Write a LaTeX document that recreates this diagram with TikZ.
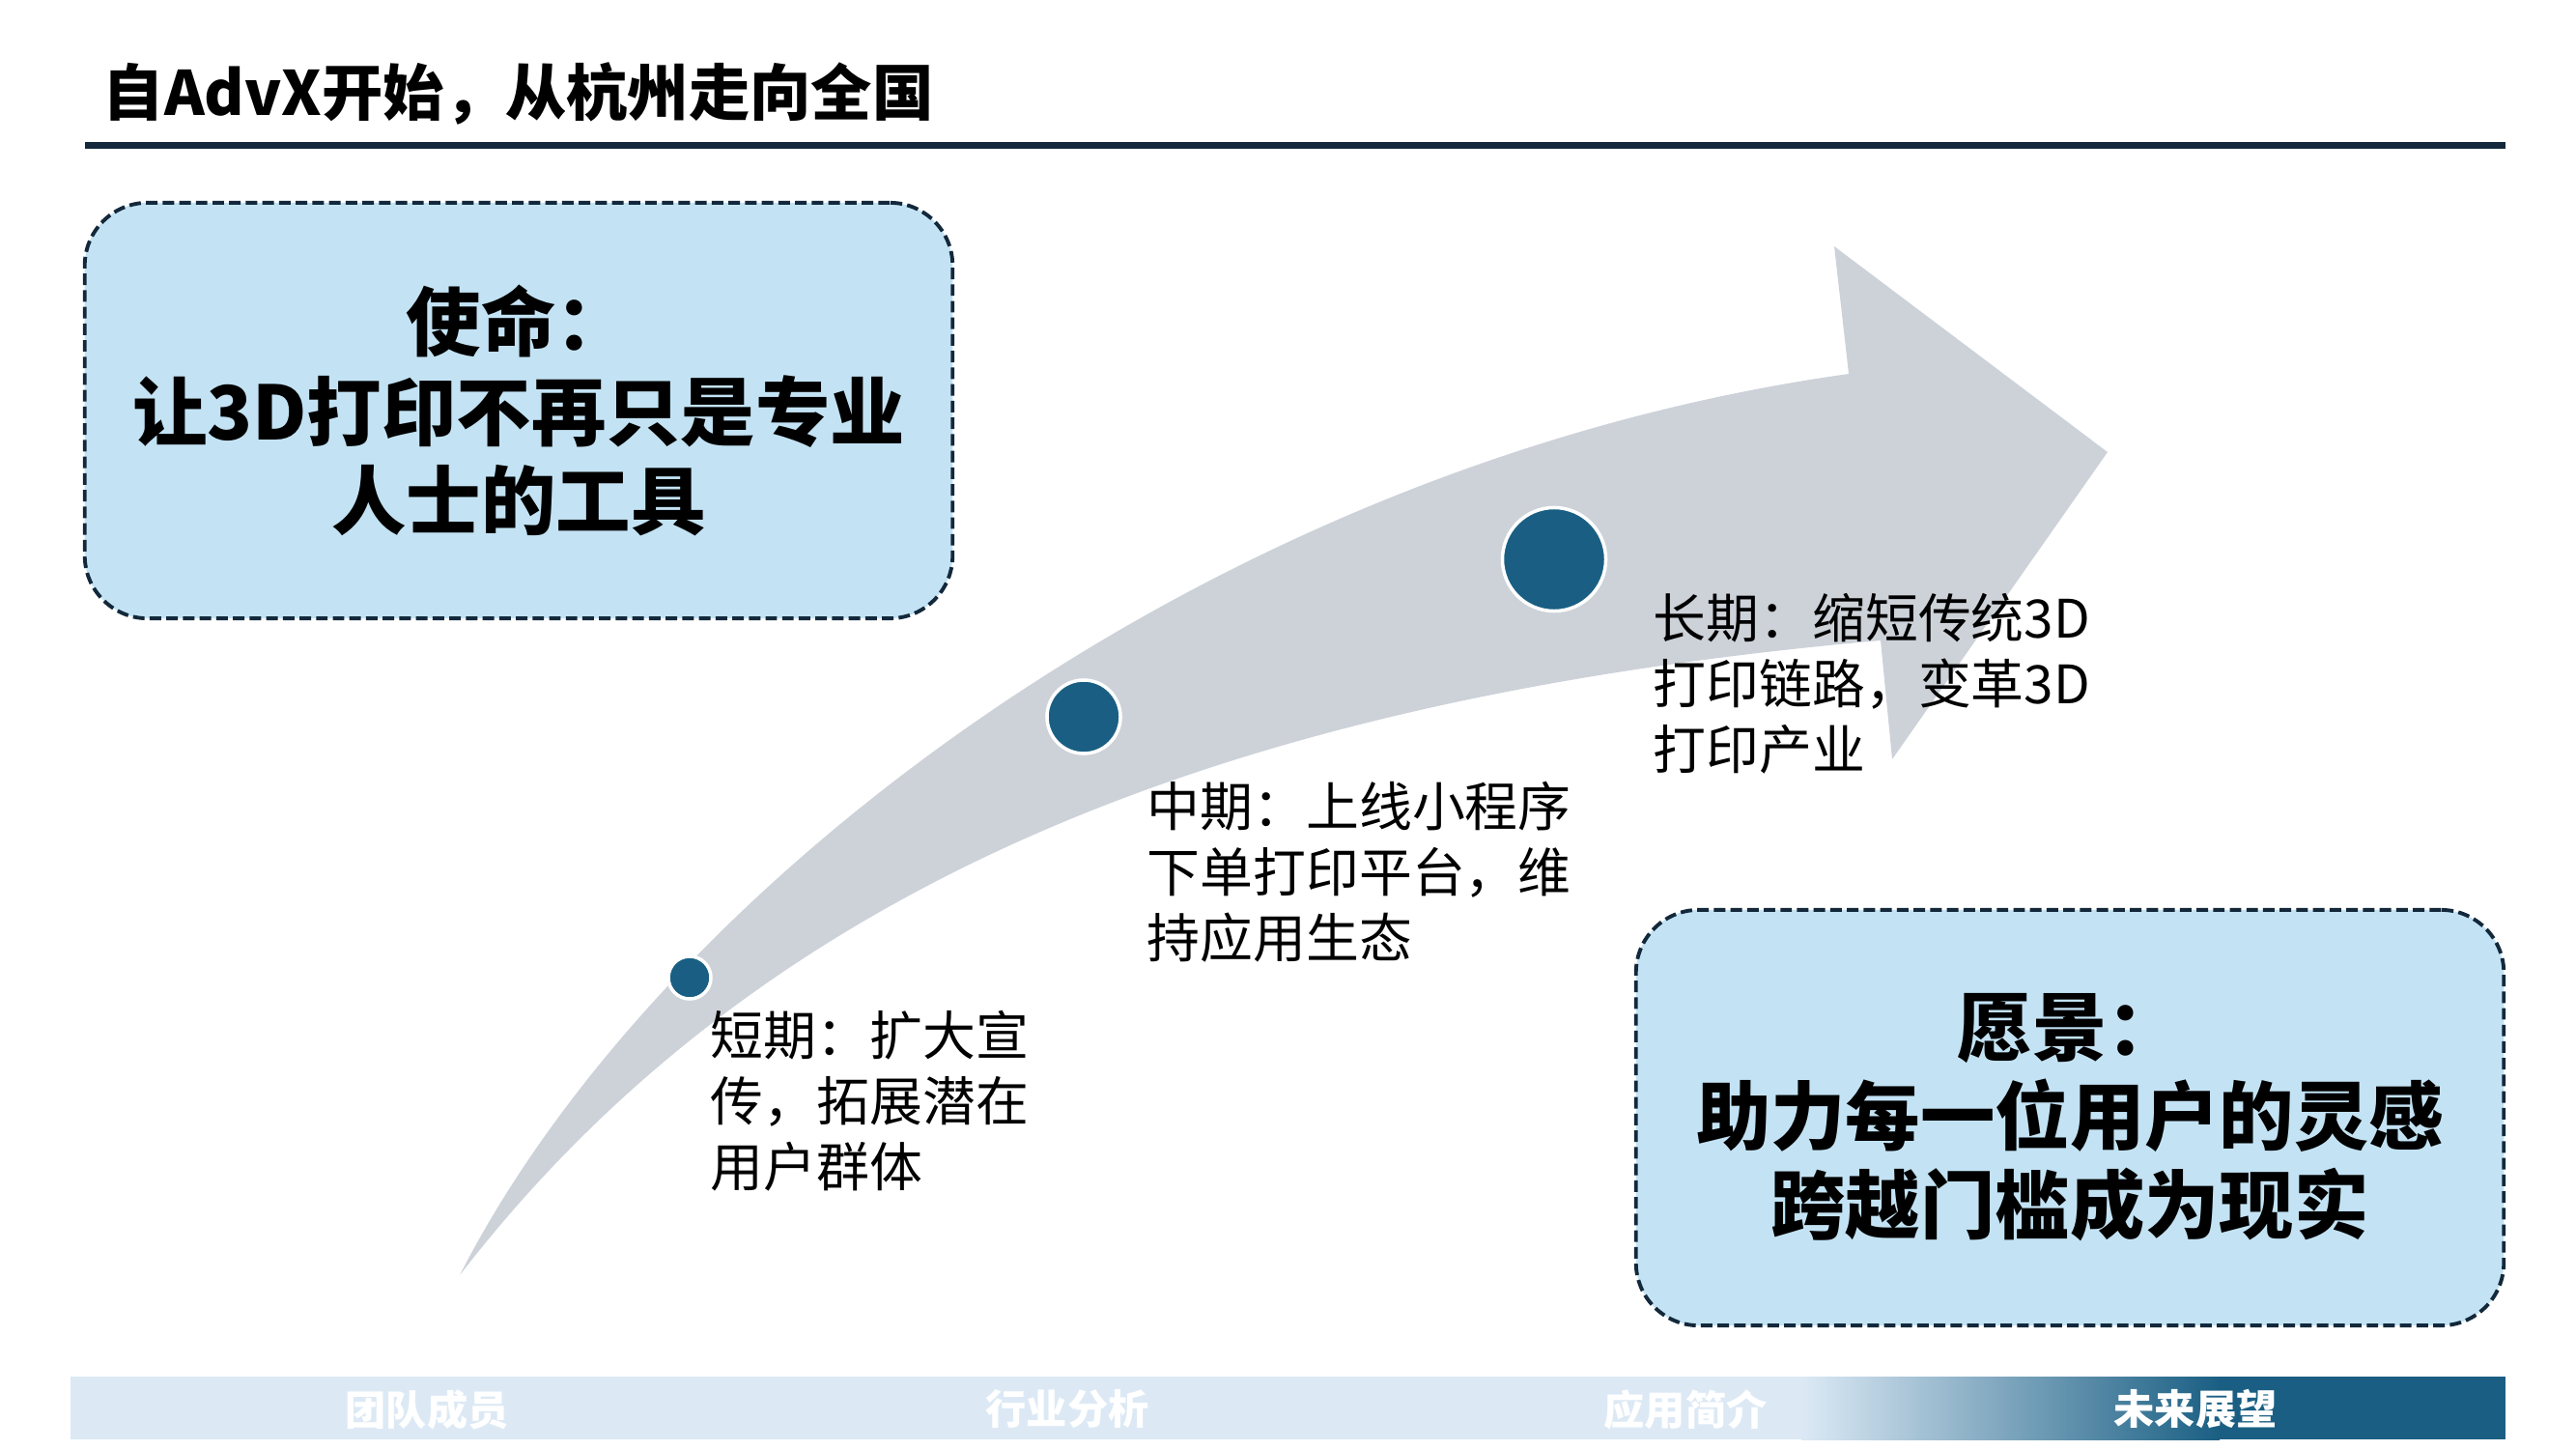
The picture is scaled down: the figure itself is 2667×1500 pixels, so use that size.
\documentclass[tikz,border=0pt]{standalone}
\usepackage{fontspec}
\setmainfont{Noto Sans CJK SC}
\usepackage{tikz}
\usetikzlibrary{positioning}
\definecolor{navy}{HTML}{13283B}
\definecolor{paleblue}{HTML}{C3E3F4}
\definecolor{arrowgray}{HTML}{CDD2D9}
\definecolor{dotblue}{HTML}{1A5F83}
\definecolor{tabblue}{HTML}{DCE9F5}

\begin{document}
\begin{tikzpicture}[x=0.01cm, y=-0.01cm,
    goal/.style={draw=navy, line width=1.1pt, dash pattern=on 3.4pt off 1.5pt, rounded corners=0.65cm, fill=paleblue, minimum width=8.98cm, minimum height=4.3cm, align=center, inner sep=0pt, font=\fontsize{22}{26.2}\selectfont\bfseries},
    stage/.style={anchor=west, align=left, inner sep=0pt, font=\fontsize{15.6}{19.3}\selectfont},
    milestone/.style={circle, fill=dotblue, draw=white, line width=1pt, inner sep=0pt},
    tablabel/.style={text=white, inner sep=0pt, font=\fontsize{12}{14}\selectfont\bfseries}
]
\useasboundingbox (0,0) rectangle (2667,1500);

\node[anchor=west, inner sep=0pt, font=\fontsize{18}{21}\selectfont\bfseries] (title) at (106,97) {自AdvX开始，从杭州走向全国};
\fill[navy] (88,147) rectangle (2594,154);

\fill[arrowgray] (476,1320) .. controls (680,920) and (1250,480) .. (1914,387)
    -- (1899,255) -- (2182,468) -- (1959,786) -- (1947,663)
    .. controls (1300,720) and (800,900) .. (476,1320) -- cycle;

\node[goal] (mission) at (537,425) {使命：\\让3D打印不再只是专业\\人士的工具};
\node[goal] (vision) at (2143,1157) {愿景：\\助力每一位用户的灵感\\跨越门槛成为现实};

\node[milestone, minimum size=0.44cm] (short) at (714,1012) {};
\node[milestone, minimum size=0.76cm] (mid) at (1122,742) {};
\node[milestone, minimum size=1.07cm] (long) at (1609,579) {};

\node[stage] (shorttext) at (735,1140) {短期：扩大宣\\传，拓展潜在\\用户群体};
\node[stage] (midtext) at (1187,903) {中期：上线小程序\\下单打印平台，维\\持应用生态};
\node[stage] (longtext) at (1711,708) {长期：缩短传统3D\\打印链路，变革3D\\打印产业};

\fill[tabblue] (73,1425) rectangle (1866,1490);
\shade[left color=tabblue, right color=dotblue] (1865,1425) rectangle (2298,1490);
\fill[dotblue] (2297,1425) rectangle (2594,1490);

\node[tablabel] (team) at (442,1459) {团队成员};
\node[tablabel] (industry) at (1105,1459) {行业分析};
\node[tablabel] (app) at (1745,1459) {应用简介};
\node[tablabel] (future) at (2273,1459) {未来展望};
\end{tikzpicture}
\end{document}
